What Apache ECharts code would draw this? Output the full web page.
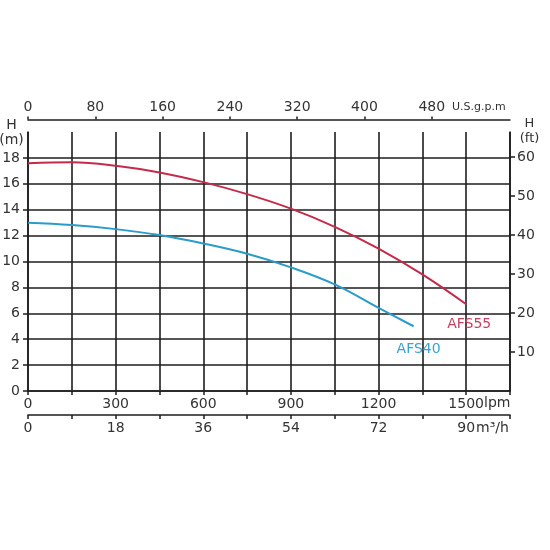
<!DOCTYPE html>
<html><head><meta charset="utf-8">
<script src="https://cdn.jsdelivr.net/npm/echarts@6/dist/echarts.min.js"></script>
<style>html,body{margin:0;padding:0;background:#fff}#c{width:550px;height:550px}</style>
</head><body><div id="c"></div>
<script>
const flowAFS55 = [0,150,300,450,600,750,900,1050,1200,1350,1500];
const headAFS55 = [17.58,17.66,17.4,16.88,16.13,15.2,14.08,12.68,11.0,9.0,6.7];
const flowAFS40 = [0,150,300,450,600,750,900,1050,1200,1320];
const headAFS40 = [13.0,12.82,12.5,12.04,11.39,10.6,9.55,8.23,6.42,5.0];
const lpmLabels = [0,300,600,900,1200,1500];
const gpmLabels = [0,80,160,240,320,400,480];
const m3hLabels = [0,18,36,54,72,90];
const mLabels = [0,2,4,6,8,10,12,14,16,18];
const ftLabels = [10,20,30,40,50,60];

const FONT = 'DejaVu Sans';
const TXT = '#333';
const LINE = '#1e1e1e';
const fmt = v => String(v);
const pairs = (xs, ys) => xs.map((x, i) => [x, ys[i]]);

const chart = echarts.init(document.getElementById('c'));
chart.setOption({
  backgroundColor: '#fff',
  animation: false,
  grid: { left: 28, right: 40, top: 132, bottom: 159, containLabel: false, outerBoundsMode: 'none' },
  xAxis: [
    { type: 'value', position: 'bottom', min: 0, max: 1650, interval: 150,
      name: 'lpm', nameLocation: 'end', nameGap: -26, nameMoveOverlap: false,
      nameTextStyle: { color: TXT, fontSize: 14, fontFamily: FONT, align: 'left', verticalAlign: 'top', lineHeight: 24 },
      axisLine: { show: true, onZero: false, lineStyle: { color: LINE, width: 1.6 } },
      axisTick: { show: true, length: 4, lineStyle: { color: LINE, width: 1.5 } },
      axisLabel: { customValues: lpmLabels, formatter: fmt, margin: 6, color: TXT, fontSize: 14, fontFamily: FONT },
      splitLine: { show: true, lineStyle: { color: LINE, width: 1.6 } } },
    { type: 'value', position: 'top', offset: 12.5, min: 0, max: 573,
      name: 'U.S.g.p.m', nameLocation: 'end', nameGap: -58, nameMoveOverlap: false,
      nameTextStyle: { color: TXT, fontSize: 11, fontFamily: FONT, align: 'left', verticalAlign: 'bottom', lineHeight: 25 },
      axisLine: { show: true, onZero: false, lineStyle: { color: LINE, width: 1.5 } },
      axisTick: { show: true, length: 3, customValues: gpmLabels, lineStyle: { color: LINE, width: 1.5 } },
      axisLabel: { customValues: gpmLabels, formatter: fmt, margin: 5, color: TXT, fontSize: 14, fontFamily: FONT },
      splitLine: { show: false } },
    { type: 'value', position: 'bottom', offset: 24, min: 0, max: 99, interval: 9,
      name: 'm³/h', nameLocation: 'end', nameGap: -34, nameMoveOverlap: false,
      nameTextStyle: { color: TXT, fontSize: 14, fontFamily: FONT, align: 'left', verticalAlign: 'top', lineHeight: 26 },
      axisLine: { show: true, onZero: false, lineStyle: { color: LINE, width: 1.5 } },
      axisTick: { show: true, length: 4, lineStyle: { color: LINE, width: 1.5 } },
      axisLabel: { customValues: m3hLabels, formatter: fmt, margin: 6, color: TXT, fontSize: 14, fontFamily: FONT },
      splitLine: { show: false } }
  ],
  yAxis: [
    { type: 'value', position: 'left', min: 0, max: 20, interval: 2,
      name: 'H\n(m)', nameLocation: 'end', nameGap: -16, nameMoveOverlap: false,
      nameTextStyle: { color: TXT, fontSize: 14, fontFamily: FONT, lineHeight: 15, padding: [0, 33, 0, 0] },
      axisLine: { show: true, onZero: false, lineStyle: { color: LINE, width: 1.6 } },
      axisTick: { show: true, length: 5, customValues: mLabels, lineStyle: { color: LINE, width: 1.5 } },
      axisLabel: { customValues: mLabels, formatter: fmt, margin: 8, color: TXT, fontSize: 14, fontFamily: FONT },
      splitLine: { show: true, lineStyle: { color: LINE, width: 1.6 } } },
    { type: 'value', position: 'right', min: 0, max: 66.4, interval: 10,
      name: 'H\n(ft)', nameLocation: 'end', nameGap: -14, nameMoveOverlap: false,
      nameTextStyle: { color: TXT, fontSize: 13, fontFamily: FONT, lineHeight: 15, padding: [0, 0, 0, 39] },
      axisLine: { show: true, onZero: false, lineStyle: { color: LINE, width: 1.6 } },
      axisTick: { show: true, length: 5, customValues: ftLabels, lineStyle: { color: LINE, width: 1.5 } },
      axisLabel: { customValues: ftLabels, formatter: fmt, margin: 7, color: TXT, fontSize: 14, fontFamily: FONT },
      splitLine: { show: false } }
  ],
  series: [
    { name: 'AFS55', type: 'line', xAxisIndex: 0, yAxisIndex: 0, smooth: 0.4, symbol: 'none',
      lineStyle: { color: '#c42a4a', width: 2 }, itemStyle: { color: '#c42a4a' },
      endLabel: { show: true, formatter: 'AFS55', color: '#c8405e', fontSize: 14, fontFamily: FONT,
        distance: 0, align: 'center', verticalAlign: 'top', offset: [3, 13] },
      data: pairs(flowAFS55, headAFS55) },
    { name: 'AFS40', type: 'line', xAxisIndex: 0, yAxisIndex: 0, smooth: 0.4, symbol: 'none',
      lineStyle: { color: '#2a9bcb', width: 2 }, itemStyle: { color: '#2a9bcb' },
      endLabel: { show: true, formatter: 'AFS40', color: '#3aa2cf', fontSize: 14, fontFamily: FONT,
        distance: 0, align: 'center', verticalAlign: 'top', offset: [5, 16] },
      data: pairs(flowAFS40, headAFS40) }
  ]
});
</script></body></html>
